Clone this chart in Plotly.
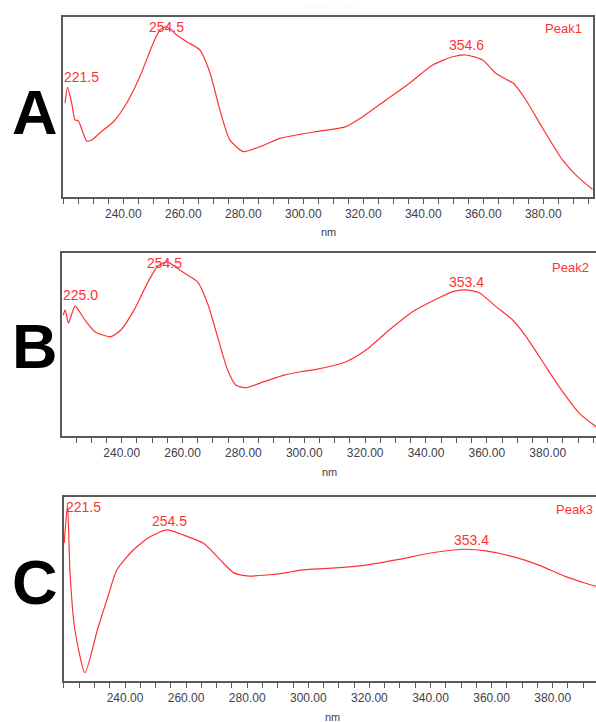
import plotly.graph_objects as go

# ---------------- data ----------------
wl_A = [220.6, 221.4, 222.8, 223.9, 225.0, 227.8, 229.5, 232.2, 236.7, 241.1, 245.5, 250.0, 252.2,
        254.5, 257.8, 261.1, 265.5, 268.9, 272.2, 275.5, 280.0, 285.5, 292.2, 298.9, 305.9, 314.2,
        319.8, 327.6, 335.4, 343.1, 349.8, 354.2, 359.8, 364.2, 367.6, 370.3, 374.2, 379.8, 386.4,
        391.4, 396.4]
abs_A = [52.1, 60.9, 52.2, 42.8, 42.4, 31.1, 31.7, 35.6, 41.8, 52.1, 66.8, 85.6, 92.8,
         94.6, 90.0, 86.3, 81.7, 68.9, 48.3, 31.7, 25.2, 27.9, 32.6, 34.8, 36.7, 39.1,
         44.6, 53.9, 63.2, 73.3, 77.9, 78.9, 76.1, 68.7, 65.4, 62.8, 53.9, 38.2, 20.6,
         11.3, 4.3]

wl_B = [220.8, 221.4, 222.5, 223.3, 224.7, 227.9, 231.2, 236.4, 239.7, 244.1, 248.4, 251.7, 255.0,
        258.3, 261.6, 264.9, 268.2, 271.5, 274.8, 277.5, 280.8, 286.8, 293.4, 298.9, 303.9, 313.7,
        320.3, 327.9, 335.6, 343.3, 348.8, 353.2, 357.5, 363.0, 368.5, 372.9, 379.4, 384.9, 390.4,
        395.9, 398.0]
abs_B = [66.1, 68.9, 61.6, 65.2, 71.0, 63.4, 57.0, 54.3, 57.9, 68.9, 83.4, 92.5, 95.2,
         91.6, 88.0, 84.3, 72.5, 54.3, 36.1, 27.9, 26.4, 29.7, 33.3, 35.1, 36.4, 40.6,
         47.0, 57.9, 67.9, 74.7, 78.9, 79.8, 78.3, 70.7, 63.4, 54.3, 37.9, 24.2, 12.4,
         5.1, 2.7]

wl_C = [220.1, 221.2, 222.0, 223.6, 226.9, 231.0, 234.4, 237.3, 242.7, 248.2, 253.7, 259.2, 265.7,
        271.2, 275.5, 279.9, 286.5, 293.0, 297.4, 307.8, 318.8, 329.7, 340.6, 351.5, 358.1, 367.9,
        375.5, 384.3, 390.8, 395.2]
abs_C = [75.0, 95.7, 58.7, 27.7, 4.5, 28.0, 45.8, 60.3, 71.2, 78.4, 82.1, 79.3, 74.8,
         65.8, 58.9, 57.1, 57.6, 58.9, 60.3, 61.3, 63.0, 66.1, 69.7, 71.6, 70.7, 67.2,
         63.0, 56.7, 53.1, 50.9]

panel_letters = ["A", "B", "C"]
peak_names = ["Peak1", "Peak2", "Peak3"]
# peak labels: text, label-centre wavelength, label-centre height
peaks_A = [("221.5", 226.2, 66.7), ("254.5", 254.3, 94.4), ("354.6", 354.4, 84.2)]
peaks_B = [("225.0", 226.3, 77.0), ("254.5", 254.2, 94.8), ("353.4", 353.3, 84.2)]
peaks_C = [("221.5", 226.3, 94.3), ("254.5", 254.6, 87.0), ("353.4", 353.3, 76.4)]

tick_vals = [240, 260, 280, 300, 320, 340, 360, 380]

# ---------------- layout geometry ----------------
W, H = 596, 722
RED = "rgb(255,50,50)"
AXC = "#5a5a5a"
TXT = "#404048"

panels = [
    # (wl, abs, peaks, xdomain(px), ytop, ybot, xrange, right border)
    (wl_A, abs_A, peaks_A, (63, 593), 17, 197, [219.9, 396.57], True),
    (wl_B, abs_B, peaks_B, (61.5, 596), 253, 436, [220.22, 395.87], False),
    (wl_C, abs_C, peaks_C, (63.5, 596), 497, 681, [219.87, 394.17], False),
]

fig = go.Figure()
annotations = []
letter_y = [112, 346, 582]
name_pos = [(584, 29, "right"), (591, 267, "right"), (595, 509.5, "right")]
nm_pos = [(328.5, 232), (329, 472), (332.5, 717)]

for i, (wl, ab, pk, (xl, xr), yt, yb, xr_rng, rborder) in enumerate(panels):
    n = "" if i == 0 else str(i + 1)
    fig.add_trace(go.Scatter(
        x=wl, y=ab, mode="lines",
        line=dict(color=RED, width=1.2, shape="spline", smoothing=0.6),
        xaxis="x" + n, yaxis="y" + n, showlegend=False, hoverinfo="skip"))
    fig.update_layout(**{
        "xaxis" + n: dict(
            domain=[xl / W, xr / W], range=xr_rng, anchor="y" + n,
            showline=True, linecolor=AXC, linewidth=1.5, mirror=True,
            showgrid=False, zeroline=False,
            tickvals=tick_vals, tickformat=".2f",
            ticks="outside", ticklen=5, tickwidth=1, tickcolor=AXC,
            minor=dict(dtick=5, tick0=0, ticks="outside", ticklen=5, tickwidth=1, tickcolor=AXC),
            tickfont=dict(family="Liberation Sans, Arial", size=12, color=TXT),
        ),
        "yaxis" + n: dict(
            domain=[1 - yb / H, 1 - yt / H], range=[0, 100], anchor="x" + n,
            showline=True, linecolor=AXC, linewidth=1.5, mirror=rborder,
            showgrid=False, zeroline=False, showticklabels=False, ticks="",
        ),
    })
    for txt, px, py in pk:
        annotations.append(dict(
            x=px, y=py, xref="x" + n, yref="y" + n, text=txt, showarrow=False,
            xanchor="center", yanchor="middle",
            font=dict(family="Liberation Sans, Arial", size=14, color=RED)))
    # panel letter
    annotations.append(dict(
        x=35 / W, y=1 - letter_y[i] / H, xref="paper", yref="paper", text=panel_letters[i],
        showarrow=False, xanchor="center", yanchor="middle",
        font=dict(family="Liberation Sans, Arial", size=63, color="black", weight="bold")))
    # peak name
    px_, py_, anc = name_pos[i]
    annotations.append(dict(
        x=px_ / W, y=1 - py_ / H, xref="paper", yref="paper", text=peak_names[i],
        showarrow=False, xanchor=anc, yanchor="middle",
        font=dict(family="Liberation Sans, Arial", size=13, color=RED)))
    # axis title
    annotations.append(dict(
        x=nm_pos[i][0] / W, y=1 - nm_pos[i][1] / H, xref="paper", yref="paper", text="nm",
        showarrow=False, xanchor="center", yanchor="middle",
        font=dict(family="Liberation Sans, Arial", size=11, color=TXT)))

# faint header remnant at the very top
annotations.append(dict(
    x=328 / W, y=1 - 6 / H, xref="paper", yref="paper", text="- - - - - - - -   -   - - -",
    showarrow=False, xanchor="center", yanchor="middle",
    font=dict(family="Liberation Sans, Arial", size=6, color="#d0d0d0")))

fig.update_layout(
    width=W, height=H, margin=dict(l=0, r=0, t=0, b=0),
    paper_bgcolor="white", plot_bgcolor="white",
    annotations=annotations,
)

fig.write_html("out.html")
